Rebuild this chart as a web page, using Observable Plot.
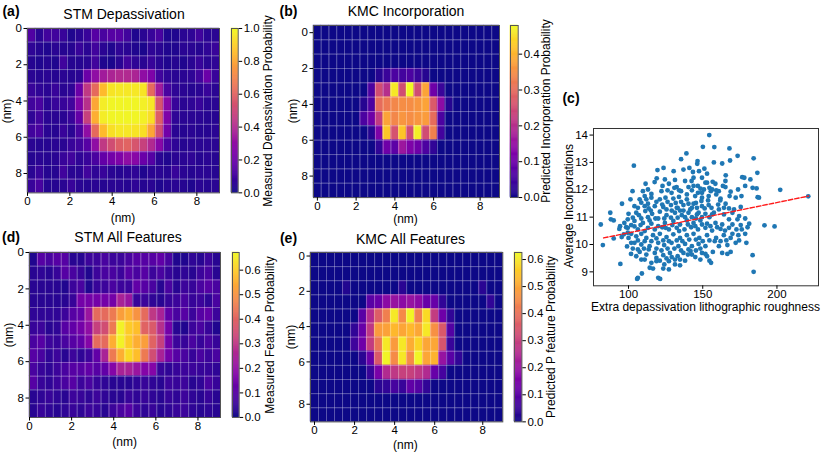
<!DOCTYPE html>
<html><head><meta charset="utf-8">
<script src="https://cdn.jsdelivr.net/npm/d3@7"></script>
<script src="https://cdn.jsdelivr.net/npm/@observablehq/plot@0.6"></script>
<style>
body{margin:0;background:#fff;}
#root{position:relative;width:830px;height:454px;overflow:hidden;font-family:"Liberation Sans",Arial,sans-serif;color:#000;}
.t{position:absolute;white-space:nowrap;line-height:1;}
</style></head><body><div id="root"></div>
<script>
// ---------- data ----------
const stmDepassivation = [
[0.14,0.05,0.10,0.10,0.08,0.03,0.05,0.08,0.15,0.12,0.15,0.15,0.10,0.03,0.05,0.08,0.12,0.03,0.03,0.05,0.06,0.10,0.05,0.05],
[0.06,0.04,0.03,0.05,0.04,0.04,0.08,0.05,0.10,0.05,0.03,0.06,0.05,0.03,0.02,0.06,0.05,0.03,0.03,0.05,0.05,0.04,0.06,0.08],
[0.04,0.03,0.04,0.03,0.10,0.04,0.04,0.05,0.10,0.03,0.02,0.05,0.10,0.06,0.05,0.08,0.05,0.03,0.04,0.03,0.05,0.08,0.05,0.06],
[0.05,0.04,0.05,0.04,0.05,0.04,0.05,0.20,0.30,0.35,0.38,0.40,0.40,0.38,0.30,0.25,0.10,0.06,0.05,0.05,0.06,0.10,0.20,0.08],
[0.08,0.06,0.05,0.08,0.05,0.06,0.20,0.45,0.62,0.85,0.95,0.96,0.96,0.96,0.95,0.62,0.35,0.12,0.06,0.05,0.04,0.05,0.08,0.05],
[0.10,0.12,0.05,0.08,0.08,0.10,0.25,0.42,0.80,0.97,0.99,0.99,0.99,0.99,0.98,0.96,0.55,0.28,0.08,0.05,0.06,0.08,0.05,0.05],
[0.06,0.10,0.05,0.05,0.05,0.08,0.18,0.48,0.82,0.97,0.99,0.99,0.99,0.99,0.98,0.94,0.58,0.25,0.06,0.05,0.05,0.05,0.04,0.04],
[0.10,0.12,0.05,0.04,0.08,0.05,0.12,0.30,0.62,0.85,0.94,0.96,0.96,0.95,0.94,0.80,0.52,0.22,0.05,0.04,0.05,0.04,0.04,0.05],
[0.05,0.04,0.04,0.05,0.05,0.08,0.10,0.15,0.30,0.45,0.52,0.58,0.60,0.55,0.48,0.40,0.28,0.12,0.06,0.04,0.05,0.05,0.05,0.05],
[0.04,0.05,0.04,0.05,0.08,0.10,0.06,0.08,0.12,0.18,0.22,0.25,0.30,0.28,0.20,0.15,0.05,0.03,0.05,0.05,0.06,0.04,0.05,0.04],
[0.05,0.08,0.04,0.04,0.10,0.05,0.05,0.10,0.06,0.08,0.05,0.04,0.05,0.06,0.03,0.05,0.05,0.04,0.08,0.05,0.04,0.05,0.05,0.04],
[0.08,0.12,0.04,0.04,0.05,0.08,0.05,0.04,0.05,0.04,0.05,0.05,0.04,0.06,0.04,0.05,0.03,0.04,0.05,0.04,0.03,0.05,0.04,0.05]
];
const kmcIncorporation = [
[0,0,0,0,0,0,0,0,0,0,0,0,0,0,0,0,0,0,0,0,0,0,0,0],
[0,0,0,0,0,0,0,0,0,0,0,0,0,0,0,0,0,0,0,0,0,0,0,0],
[0,0,0,0,0,0,0,0,0,0,0,0,0,0,0,0,0,0,0,0,0,0,0,0],
[0,0,0,0,0,0,0,0,0.02,0.04,0.06,0.05,0.06,0.04,0.02,0,0,0,0,0,0,0,0,0],
[0,0,0,0,0,0,0,0.06,0.25,0.20,0.46,0.25,0.48,0.25,0.38,0.10,0.04,0,0,0,0,0,0,0],
[0,0,0,0,0,0,0.02,0.06,0.30,0.32,0.34,0.35,0.35,0.36,0.38,0.27,0.14,0.02,0,0,0,0,0,0],
[0,0,0,0,0,0,0.06,0.10,0.22,0.38,0.34,0.36,0.35,0.36,0.37,0.30,0.06,0,0,0,0,0,0,0],
[0,0,0,0,0,0,0,0.02,0.12,0.42,0.26,0.42,0.25,0.47,0.25,0.33,0.05,0,0,0,0,0,0,0],
[0,0,0,0,0,0,0,0,0.03,0.10,0.08,0.16,0.12,0.10,0.06,0.03,0,0,0,0,0,0,0,0],
[0,0,0,0,0,0,0,0,0,0,0,0,0,0,0,0,0,0,0,0,0,0,0,0],
[0,0,0,0,0,0,0,0,0,0,0,0,0,0,0,0,0,0,0,0,0,0,0,0],
[0,0,0,0,0,0,0,0,0,0,0,0,0,0,0,0,0,0,0,0,0,0,0,0]
];
const stmAllFeatures = [
[0.02,0.10,0.08,0.10,0.10,0.03,0.03,0.06,0.06,0.08,0.06,0.06,0.08,0.10,0.10,0.10,0.12,0.08,0.02,0.02,0.04,0.03,0.06,0.03],
[0.03,0.04,0.03,0.05,0.10,0.08,0.05,0.02,0.06,0.08,0.08,0.06,0.10,0.08,0.10,0.06,0.08,0.05,0.03,0.04,0.03,0.06,0.08,0.03],
[0.03,0.03,0.03,0.03,0.02,0.06,0.08,0.02,0.05,0.06,0.08,0.06,0.06,0.12,0.10,0.08,0.03,0.08,0.03,0.06,0.05,0.08,0.10,0.08],
[0.03,0.03,0.03,0.03,0.03,0.05,0.15,0.15,0.15,0.15,0.15,0.25,0.22,0.05,0.06,0.04,0.03,0.05,0.06,0.08,0.05,0.06,0.04,0.08],
[0.04,0.04,0.04,0.04,0.06,0.10,0.12,0.22,0.42,0.42,0.45,0.52,0.55,0.50,0.42,0.30,0.25,0.12,0.08,0.10,0.06,0.10,0.12,0.06],
[0.05,0.06,0.03,0.04,0.10,0.12,0.15,0.20,0.32,0.35,0.45,0.66,0.60,0.58,0.40,0.38,0.28,0.15,0.03,0.02,0.06,0.08,0.05,0.02],
[0.08,0.10,0.06,0.05,0.08,0.10,0.12,0.18,0.42,0.42,0.55,0.66,0.60,0.55,0.52,0.40,0.32,0.15,0.06,0.05,0.08,0.05,0.08,0.05],
[0.10,0.08,0.04,0.06,0.03,0.06,0.04,0.06,0.12,0.25,0.45,0.55,0.62,0.58,0.45,0.35,0.25,0.15,0.10,0.08,0.05,0.08,0.06,0.08],
[0.08,0.05,0.04,0.06,0.08,0.10,0.10,0.12,0.10,0.12,0.18,0.25,0.25,0.22,0.18,0.18,0.05,0.04,0.05,0.06,0.06,0.05,0.05,0.04],
[0.10,0.05,0.04,0.06,0.08,0.10,0.06,0.08,0.05,0.04,0.03,0.03,0.03,0.04,0.05,0.04,0.03,0.06,0.05,0.06,0.03,0.04,0.08,0.05],
[0.03,0.04,0.05,0.04,0.03,0.06,0.05,0.04,0.06,0.04,0.03,0.03,0.05,0.04,0.05,0.04,0.03,0.05,0.04,0.06,0.04,0.03,0.05,0.03],
[0.03,0.05,0.04,0.03,0.04,0.05,0.04,0.06,0.05,0.03,0.06,0.08,0.10,0.06,0.04,0.05,0.03,0.04,0.05,0.06,0.04,0.03,0.04,0.03]
];
const kmcAllFeatures = [
[0,0,0,0,0,0,0,0,0,0,0,0,0,0,0,0,0,0,0,0,0,0,0,0],
[0,0,0,0,0,0,0,0,0,0,0,0,0,0,0,0,0,0,0,0,0,0,0,0],
[0,0,0,0,0.02,0,0,0,0,0,0,0.03,0,0,0,0,0,0,0,0,0,0.03,0,0],
[0,0,0,0,0,0,0,0.10,0.12,0.18,0.20,0.18,0.20,0.18,0.12,0.12,0.04,0,0,0,0,0,0.04,0],
[0,0,0,0,0,0,0.10,0.25,0.36,0.43,0.60,0.45,0.62,0.43,0.58,0.29,0.13,0.04,0,0,0,0,0,0],
[0,0,0,0,0,0.04,0.12,0.28,0.48,0.49,0.53,0.50,0.53,0.50,0.60,0.46,0.35,0.09,0,0,0,0,0,0],
[0,0,0,0,0,0.06,0.13,0.29,0.41,0.60,0.48,0.60,0.51,0.57,0.50,0.50,0.34,0.05,0,0,0,0,0,0],
[0,0,0,0,0,0,0.03,0.12,0.35,0.62,0.45,0.60,0.45,0.62,0.50,0.52,0.20,0.10,0.04,0,0,0,0,0],
[0,0,0,0,0,0,0,0.05,0.15,0.25,0.28,0.30,0.30,0.28,0.25,0.12,0.07,0,0,0,0,0,0,0],
[0,0,0,0,0,0,0,0,0.03,0.04,0.07,0.05,0.11,0.09,0.04,0,0,0,0,0,0,0,0,0],
[0,0,0,0,0,0,0,0,0,0,0,0,0,0,0,0,0,0,0,0,0,0,0,0],
[0,0,0,0,0,0,0,0,0,0,0,0,0,0,0,0,0,0,0,0,0,0,0,0]
];
const tickLabels = ["0","2","4","6","8"];
const tickNm = [0,2,4,6,8];          // STM panels: physical ticks (nm)
const stmExtentNm = 9.07;             // STM image extent (nm)
const kmcColTickIndex = [0,5,10,15,21];   // KMC panels: pixel index ticks
const kmcIncRowTickIndex = [1,6,11,16,21];
const kmcAllRowTickIndex = [0,5,10,15,21];
const colorMax = {a:1.0, b:0.48, d:0.672, e:0.626};
const cbTicksA = [0,0.2,0.4,0.6,0.8,1.0];
const cbTicksB = [0,0.1,0.2,0.3,0.4];
const cbTicksDE = [0,0.1,0.2,0.3,0.4,0.5,0.6];

const roughness = [
154.4,150.1,157.8,168.0,139.0,173.5,135.4,146.5,146.3,157.5,
163.1,168.4,184.3,103.6,123.6,119.5,130.4,137.0,141.0,143.4,
147.5,151.1,152.9,165.5,186.8,176.6,178.0,182.1,119.0,131.3,
138.1,143.8,142.5,152.9,156.7,165.3,111.5,117.6,122.9,127.2,
132.4,140.4,146.7,150.8,158.5,160.8,165.3,168.8,173.8,178.6,
183.6,186.3,187.0,187.9,202.2,221.1,102.7,109.7,113.1,126.3,
129.0,135.4,142.7,148.5,155.4,101.3,95.6,110.9,115.4,121.1,
124.9,130.2,134.0,139.3,144.9,149.5,154.0,162.0,168.1,172.2,
176.1,160.4,165.4,154.0,149.5,108.6,113.1,117.7,123.4,128.6,
133.1,137.0,142.7,87.7,100.0,105.2,107.0,111.3,115.9,121.1,
125.6,131.3,135.9,140.4,146.1,151.8,157.5,164.3,170.0,174.5,
167.7,173.4,178.6,88.1,90.0,81.3,99.5,104.0,109.7,114.2,
120.0,124.5,130.2,134.7,139.3,143.8,148.4,152.9,158.6,163.1,
191.6,198.4,94.3,93.8,99.5,104.0,108.1,113.1,117.7,122.7,
127.2,132.5,137.7,142.2,146.8,151.8,156.3,162.0,167.7,172.7,
180.2,181.3,95.4,90.0,99.5,100.0,105.2,108.6,112.0,116.5,
121.1,125.6,130.2,134.7,139.3,143.8,147.7,152.9,159.0,164.2,
168.8,174.0,178.6,179.4,82.7,99.0,104.0,108.6,114.2,120.0,
124.0,129.0,133.6,138.1,142.7,147.2,151.8,160.9,166.6,172.2,
174.5,101.7,107.5,112.0,117.7,123.4,127.9,133.1,137.0,142.7,
149.5,152.9,154.5,155.6,163.1,166.6,94.5,108.6,115.4,116.5,
121.1,124.1,127.2,131.3,134.7,138.1,123.4,183.6,184.3,109.0,
106.3,105.8,120.0,121.3,107.5,113.6,118.8,126.3,131.8,135.4,
140.4,145.4,151.3,155.9,146.8,149.5,154.5,156.3,159.1,161.8,
164.3,167.7,171.1,175.6,160.9,156.3,154.5,149.5,145.4,142.7,
138.1,133.1,128.6,124.1,118.1,113.1,108.6,102.9,97.2,101.8,
106.3,110.9,115.4,120.0,125.0,129.5,134.1,140.0,145.0,149.5,
155.2,159.7,165.0,170.0,175.6,101.8,106.3,110.9,115.4,118.8,
123.4,127.2,132.5,136.3,140.9,145.4,150.0,154.5,158.1,162.0,
165.9,170.0,176.3,102.9,106.3,110.4,113.6,118.8,122.2,126.3,
130.9,135.4,140.4,145.4,148.4,156.8,168.8,105.2,110.9,118.8,
125.6,129.1,141.8,145.0,127.2,131.3,114.3,118.8,134.7,140.0,
148.4,151.8,98.4,96.8,101.8,132.5,137.0,141.6,146.1,147.2,
139.3,134.1,130.9,143.8,149.5,151.8,159.1,163.6,124.5,122.2,
115.4,112.0,106.3,104.0,110.9,115.0,143.8,149.1,153.6,134.7,
129.1,125.6,122.7
];
const incorporations = [
14.0,13.57,13.56,13.51,13.33,13.24,13.12,13.05,12.95,13.0,
12.96,13.07,13.15,12.88,12.8,12.72,12.68,12.74,12.8,12.65,
12.68,12.77,12.59,12.53,12.62,12.46,12.44,12.38,12.42,12.36,
12.32,12.44,12.32,12.26,12.29,12.32,12.22,12.28,12.14,12.22,
12.1,12.1,12.14,12.01,12.22,11.95,12.1,11.93,12.01,12.14,
12.07,12.05,11.73,11.71,12.0,11.76,11.95,11.95,12.01,11.98,
11.89,11.95,11.98,12.04,11.95,11.65,11.49,11.77,11.71,11.65,
11.71,11.68,11.74,11.65,11.77,11.71,11.77,11.68,11.77,11.71,
11.77,11.46,11.49,11.44,11.4,11.53,11.49,11.4,11.37,11.44,
11.34,11.44,11.34,11.16,11.12,11.16,11.07,11.22,11.12,11.2,
11.07,11.16,11.07,11.16,11.1,11.12,11.16,11.1,11.16,11.04,
10.92,10.92,10.95,10.92,10.88,10.73,10.92,10.86,10.79,10.88,
10.95,10.79,10.86,10.73,10.88,10.79,10.88,10.76,10.79,10.73,
10.7,10.66,10.67,10.57,10.61,10.66,10.71,10.61,10.55,10.63,
10.55,10.61,10.55,10.63,10.55,10.61,10.51,10.57,10.61,10.55,
10.63,10.76,10.27,10.22,10.43,10.24,10.3,10.39,10.24,10.34,
10.39,10.27,10.37,10.24,10.34,10.39,10.24,10.34,10.24,10.34,
10.24,10.34,10.39,10.06,9.98,9.93,10.06,10.0,9.94,10.06,
9.98,10.06,9.94,10.02,9.94,10.02,9.94,9.94,9.98,10.06,
10.15,9.66,9.73,9.63,9.69,9.61,9.69,9.57,9.69,9.63,
9.69,9.57,9.41,9.33,9.69,9.66,9.29,9.45,9.33,9.12,
9.41,9.27,9.09,9.45,9.24,9.41,9.12,9.61,9.0,8.94,
8.78,8.74,8.78,8.74,11.65,11.32,11.56,11.56,11.52,11.56,
11.49,11.52,11.32,11.34,11.89,11.89,12.07,12.01,11.83,11.61,
11.34,11.32,11.28,11.37,11.28,11.1,11.0,11.0,10.95,11.0,
11.0,10.98,10.98,10.95,10.95,11.0,10.95,10.98,10.79,10.71,
10.55,10.49,10.76,10.67,10.61,10.71,10.49,10.73,10.67,10.73,
10.67,10.63,10.51,10.73,10.71,10.39,10.15,10.12,10.12,10.22,
10.15,10.12,10.15,10.12,10.18,10.18,10.12,10.15,10.12,10.12,
10.15,10.39,10.55,9.85,9.82,9.85,9.82,9.85,9.78,9.85,
9.85,9.78,9.82,9.78,9.85,9.73,9.73,9.57,9.45,9.51,
9.49,9.54,9.76,9.54,9.39,9.27,9.15,9.39,9.45,9.63,
9.45,9.66,10.63,10.37,10.06,11.34,11.24,11.28,11.34,11.16,
11.83,11.98,12.07,12.14,12.44,12.26,11.98,12.14,12.38,11.95,
11.85,11.65,11.34,11.4,11.4,11.24,11.49,11.59,11.61,11.24,
11.24,11.28,11.46
];
const fitRoughness = [83.2, 221.3];
const fitIncorporations = [10.24, 11.77];
const scatterXTicks = [100,150,200];
const scatterYTicks = [9,10,11,12,13,14];

// ---------- rendering ----------
const root = document.getElementById("root");
const FONT = '"Liberation Sans", Arial, sans-serif';
const TICKFS = "11.5px";

function place(el, left, top){ el.style.position="absolute"; el.style.left=left+"px"; el.style.top=top+"px"; root.appendChild(el); }
function text(str, x, y, size, opts={}){
  const d=document.createElement("div"); d.className="t"; d.textContent=str;
  d.style.left=x+"px"; d.style.top=y+"px"; d.style.fontSize=size+"px";
  if(opts.bold) d.style.fontWeight="bold";
  d.style.transform="translate(-50%,-50%)"+(opts.rot?" rotate(-90deg)":"");
  root.appendChild(d);
}

function heatmap(grid, vmax, box, xt, yt){
  const cells=[]; grid.forEach((row,r)=>row.forEach((v,c)=>cells.push({c,r,v})));
  const mL=30,mR=3,mT=3,mB=20;
  const w=box.R-box.L, h=box.B-box.T;
  const svg=Plot.plot({
    width:w+mL+mR, height:h+mT+mB, marginLeft:mL, marginRight:mR, marginTop:mT, marginBottom:mB,
    style:{fontFamily:FONT,fontSize:TICKFS,background:"none",overflow:"visible",color:"#000"},
    x:{domain:[0,24]}, y:{domain:[0,12], reverse:true},
    color:{type:"linear", scheme:"plasma", domain:[0,vmax], clamp:true},
    marks:[
      Plot.rect(cells,{x1:"c",x2:d=>d.c+1,y1:"r",y2:d=>d.r+1,fill:"v",stroke:"v",strokeWidth:0.4,inset:0}),
      Plot.ruleX(d3.range(1,24),{stroke:"white",strokeOpacity:0.32,strokeWidth:1}),
      Plot.ruleY(d3.range(1,12),{stroke:"white",strokeOpacity:0.32,strokeWidth:1}),
      Plot.frame({stroke:"#555",strokeWidth:1}),
      Plot.axisX(xt,{tickFormat:d=>tickLabels[xt.indexOf(d)],tickSize:3.5,tickPadding:0.5,label:null,fontSize:TICKFS}),
      Plot.axisY(yt,{tickFormat:d=>tickLabels[yt.indexOf(d)],tickSize:3.5,tickPadding:2,label:null,fontSize:TICKFS})
    ]
  });
  place(svg, box.L-mL, box.T-mT);
}

function colorbar(vmax, ticks, box){
  const n=160; const slices=d3.range(n).map(i=>({y1:i*vmax/n,y2:(i+1)*vmax/n}));
  const mL=0,mR=30,mT=3,mB=3;
  const w=box.R-box.L, h=box.B-box.T;
  const svg=Plot.plot({
    width:w+mL+mR, height:h+mT+mB, marginLeft:mL, marginRight:mR, marginTop:mT, marginBottom:mB,
    style:{fontFamily:FONT,fontSize:TICKFS,background:"none",overflow:"visible",color:"#000"},
    x:{domain:[0,1],axis:null}, y:{domain:[0,vmax]},
    color:{type:"linear", scheme:"plasma", domain:[0,vmax]},
    marks:[
      Plot.rect(slices,{x1:()=>0,x2:()=>1,y1:"y1",y2:"y2",fill:d=>(d.y1+d.y2)/2,stroke:d=>(d.y1+d.y2)/2,strokeWidth:0.5}),
      Plot.frame({stroke:"#555",strokeWidth:1}),
      Plot.axisY(ticks,{anchor:"right",tickFormat:d3.format(".1f"),tickSize:3.5,tickPadding:2,label:null,fontSize:TICKFS})
    ]
  });
  place(svg, box.L-mL, box.T-mT);
}

const stmX = tickNm.map(v=>v*24/stmExtentNm);
const stmY = tickNm.map(v=>v*12/stmExtentNm);
const kmcX = kmcColTickIndex.map(i=>i+0.5);
const kmcIncY = kmcIncRowTickIndex.map(i=>i/2);
const kmcAllY = kmcAllRowTickIndex.map(i=>(i+0.5)/2);

// (a)
heatmap(stmDepassivation, colorMax.a, {L:27,R:219,T:28.3,B:192.7}, stmX, stmY);
colorbar(colorMax.a, cbTicksA, {L:231,R:237.7,T:28.3,B:192.7});
// (b)
heatmap(kmcIncorporation, colorMax.b, {L:312.5,R:498.5,T:24.5,B:196.6}, kmcX, kmcIncY);
colorbar(colorMax.b, cbTicksB, {L:510,R:517.7,T:24.5,B:196.6});
// (d)
heatmap(stmAllFeatures, colorMax.d, {L:29,R:220,T:252.3,B:417.3}, stmX, stmY);
colorbar(colorMax.d, cbTicksDE, {L:232.3,R:239,T:252.3,B:417.3});
// (e)
heatmap(kmcAllFeatures, colorMax.e, {L:310,R:502.3,T:252.3,B:421.7}, kmcX, kmcAllY);
colorbar(colorMax.e, cbTicksDE, {L:514.3,R:521.7,T:252.3,B:421.7});

// (c) scatter
(function(){
  const box={L:593.3,R:818.3,T:127.7,B:285};
  const mL=28,mR=4,mT=4,mB=20;
  const pts=roughness.map((x,i)=>({x,y:incorporations[i]}));
  const fit=fitRoughness.map((x,i)=>({x,y:fitIncorporations[i]}));
  const svg=Plot.plot({
    width:box.R-box.L+mL+mR, height:box.B-box.T+mT+mB, marginLeft:mL, marginRight:mR, marginTop:mT, marginBottom:mB,
    style:{fontFamily:FONT,fontSize:TICKFS,background:"none",overflow:"visible",color:"#000"},
    x:{domain:[76.4,228]}, y:{domain:[8.49,14.24]},
    marks:[
      Plot.dot(pts,{x:"x",y:"y",r:2.4,fill:"#1f77b4",stroke:"none"}),
      Plot.line(fit,{x:"x",y:"y",stroke:"#ff1a1a",strokeWidth:1.4,strokeDasharray:"4.5,2"}),
      Plot.frame({stroke:"#333",strokeWidth:1}),
      Plot.axisX(scatterXTicks,{tickSize:3.5,tickPadding:1,label:null,fontSize:TICKFS}),
      Plot.axisY(scatterYTicks,{tickSize:3.5,tickPadding:2,label:null,fontSize:TICKFS})
    ]
  });
  place(svg, box.L-mL, box.T-mT);
})();

// ---------- text ----------
text("(a)", 11, 11, 14, {bold:true});
text("STM Depassivation", 124, 13.5, 14);
text("(nm)", 7, 110.5, 12, {rot:true});
text("(nm)", 123, 217.5, 12);
text("Measured Depassivation Probability", 267.5, 110.5, 12, {rot:true});

text("(b)", 288.5, 11, 14, {bold:true});
text("KMC Incorporation", 406, 11, 14);
text("(nm)", 293.3, 110.5, 12, {rot:true});
text("(nm)", 405.5, 219, 12);
text("Predicted Incorporation Probability", 545.5, 110.5, 12, {rot:true});

text("(c)", 571, 97.5, 14, {bold:true});
text("Average Incorporations", 569.3, 206.3, 12, {rot:true});
text("Extra depassivation lithographic roughness", 705.5, 306.7, 12);

text("(d)", 11, 236.5, 14, {bold:true});
text("STM All Features", 128, 236.7, 14);
text("(nm)", 9, 335, 12, {rot:true});
text("(nm)", 124.7, 441.7, 12);
text("Measured Feature Probability", 270, 334.8, 12, {rot:true});

text("(e)", 288.5, 237.5, 14, {bold:true});
text("KMC All Features", 410.5, 238.7, 14);
text("(nm)", 290.5, 337, 12, {rot:true});
text("(nm)", 405.3, 445, 12);
text("Predicted P feature Probability", 550.5, 337, 12, {rot:true});
</script></body></html>
